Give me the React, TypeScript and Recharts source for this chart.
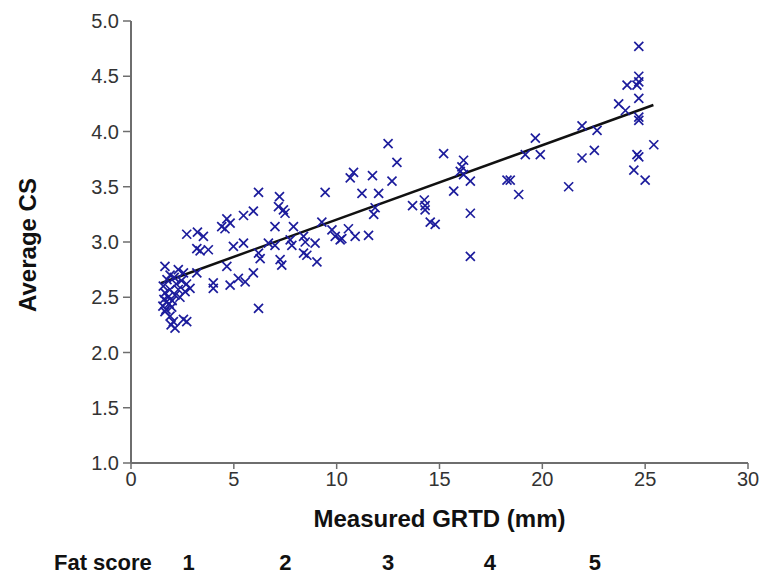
import React from 'react';
import { ScatterChart, Scatter, XAxis, YAxis, ReferenceLine, ReferenceDot, Label } from 'recharts';

const grtdMm = [
  1.65, 2.3, 2.55, 1.9, 2.1, 1.75, 2.45, 2.2, 1.57, 2.87, 1.9, 2.63, 1.65, 2.14, 1.8, 2.38, 1.6, 2.0, 1.74, 1.85,
  1.55, 1.98, 1.7, 1.65, 1.9, 2.06, 2.71, 2.14, 1.95, 2.55, 2.3, 2.7, 2.71, 3.23, 3.52, 3.2, 3.36, 3.76, 3.2, 4.0,
  4.0, 4.82, 5.22, 5.55, 5.95, 4.66, 4.41, 4.66, 4.82, 4.57, 5.47, 5.95, 4.98, 5.47, 6.2, 6.2, 6.28, 6.2, 7.0, 7.0,
  6.68, 7.25, 7.33, 7.22, 7.17, 7.41, 7.49, 7.9, 7.74, 7.82, 8.39, 8.47, 8.39, 8.55, 8.95, 9.04, 9.28, 9.44, 9.77, 9.93,
  10.17, 10.25, 10.57, 10.9, 11.55, 10.66, 10.82, 11.74, 11.23, 12.04, 11.87, 11.8, 12.5, 12.93, 12.69, 13.69, 14.26, 14.3, 14.3, 14.55,
  14.79, 15.2, 15.69, 16.17, 16.09, 16.01, 16.17, 16.5, 16.5, 16.5, 18.28, 18.44, 18.85, 19.17, 19.66, 19.9, 21.28, 21.93, 21.93, 22.53,
  22.66, 23.71, 24.04, 24.69, 24.69, 24.12, 24.6, 24.69, 24.69, 24.69, 24.69, 24.6, 24.69, 24.45, 25.0, 25.42,
];
const averageCs = [
  2.78, 2.75, 2.72, 2.7, 2.68, 2.66, 2.65, 2.62, 2.6, 2.58, 2.57, 2.55, 2.54, 2.52, 2.5, 2.5, 2.48, 2.47, 2.46, 2.44,
  2.42, 2.41, 2.39, 2.37, 2.33, 2.28, 2.28, 2.22, 2.25, 2.3, 2.57, 2.62, 3.07, 3.09, 3.05, 2.94, 2.92, 2.93, 2.72, 2.63,
  2.58, 2.61, 2.67, 2.64, 2.72, 2.78, 3.14, 3.21, 3.17, 3.12, 3.24, 3.28, 2.96, 2.99, 2.4, 2.9, 2.85, 3.45, 3.14, 2.97,
  2.99, 2.84, 2.79, 3.41, 3.32, 3.29, 3.26, 3.14, 3.02, 2.97, 3.05, 3.0, 2.9, 2.88, 2.99, 2.82, 3.18, 3.45, 3.11, 3.05,
  3.02, 3.03, 3.12, 3.05, 3.06, 3.58, 3.63, 3.6, 3.44, 3.44, 3.31, 3.25, 3.89, 3.72, 3.55, 3.33, 3.38, 3.33, 3.29, 3.18,
  3.16, 3.8, 3.46, 3.74, 3.68, 3.64, 3.61, 3.55, 3.26, 2.87, 3.56, 3.56, 3.43, 3.79, 3.94, 3.79, 3.5, 4.05, 3.76, 3.83,
  4.01, 4.25, 4.19, 4.77, 4.5, 4.42, 4.42, 4.45, 4.3, 4.13, 4.1, 3.79, 3.77, 3.65, 3.56, 3.88,
];

const trendX = [1.45, 25.4];
const trendY = [2.627, 4.24];

const xTicks = [0, 5, 10, 15, 20, 25, 30];
const yTicks = [1.0, 1.5, 2.0, 2.5, 3.0, 3.5, 4.0, 4.5, 5.0];
const fatScorePositions = [2.8, 7.5, 12.5, 17.45, 22.55];
const fatScoreLabels = ['1', '2', '3', '4', '5'];
const fatScoreTitle = 'Fat score';

const points = grtdMm.map((x, i) => ({ x, y: averageCs[i] }));

const FONT = '"Liberation Sans", Arial, sans-serif';
const MARK = '#1c1c9c';

const Cross = (props: any) => {
  const { cx, cy } = props;
  const r = 4.5;
  return (
    <g stroke={MARK} strokeWidth={1.7}>
      <line x1={cx - r} y1={cy - r} x2={cx + r} y2={cy + r} />
      <line x1={cx - r} y1={cy + r} x2={cx + r} y2={cy - r} />
    </g>
  );
};

const makeFatLabel = (text: string, dx: number, anchor: string) => (props: any) => {
  const { viewBox } = props;
  return (
    <text x={viewBox.x + dx} y={viewBox.y + 107} textAnchor={anchor} fontFamily={FONT} fontWeight="bold" fontSize={22} fill="#111">
      {text}
    </text>
  );
};

const YLabel = (props: any) => {
  const { viewBox } = props;
  const cx = viewBox.x + 27;
  const cy = viewBox.y + viewBox.height / 2 + 3;
  return (
    <text x={cx} y={cy} transform={`rotate(-90 ${cx} ${cy})`} textAnchor="middle" dominantBaseline="central" fontFamily={FONT} fontWeight="bold" fontSize={24} fill="#111">
      Average CS
    </text>
  );
};

export default function App() {
  return (
    <div style={{ position: 'absolute', left: 0, top: 0, width: 761, height: 574, background: '#fff' }}>
      <ScatterChart width={761} height={574} margin={{ top: 21, right: 13, bottom: 51, left: 0 }}>
        <XAxis
          type="number"
          dataKey="x"
          domain={[0, 30]}
          ticks={xTicks}
          interval={0}
          height={60}
          axisLine={{ stroke: '#6e6e6e', strokeWidth: 2 }}
          tickLine={{ stroke: '#6e6e6e', strokeWidth: 1.5 }}
          tickSize={6}
          tick={{ fontFamily: FONT, fontSize: 20, fill: '#333' }}
          tickMargin={3}
        >
          <Label value="Measured GRTD (mm)" position="insideBottom" offset={-4} style={{ fontFamily: FONT, fontWeight: 'bold', fontSize: 24, fill: '#111' }} />
        </XAxis>
        <YAxis
          type="number"
          dataKey="y"
          domain={[1, 5]}
          ticks={yTicks}
          interval={0}
          width={131}
          axisLine={{ stroke: '#6e6e6e', strokeWidth: 2 }}
          tickLine={{ stroke: '#6e6e6e', strokeWidth: 1.5 }}
          tickSize={8}
          tickMargin={4}
          tickFormatter={(v: number) => v.toFixed(1)}
          tick={{ fontFamily: FONT, fontSize: 20, fill: '#333' }}
        >
          <Label content={<YLabel />} />
        </YAxis>
        <Scatter data={points} shape={<Cross />} isAnimationActive={false} />
        <ReferenceLine
          segment={[{ x: trendX[0], y: trendY[0] }, { x: trendX[1], y: trendY[1] }]}
          stroke="#111"
          strokeWidth={2.5}
          ifOverflow="visible"
        />
        <ReferenceDot x={0} y={1} r={0} ifOverflow="visible" label={makeFatLabel(fatScoreTitle, -77, 'start')} />
        {fatScorePositions.map((p, i) => (
          <ReferenceDot key={i} x={p} y={1} r={0} ifOverflow="visible" label={makeFatLabel(fatScoreLabels[i], 0, 'middle')} />
        ))}
      </ScatterChart>
    </div>
  );
}
